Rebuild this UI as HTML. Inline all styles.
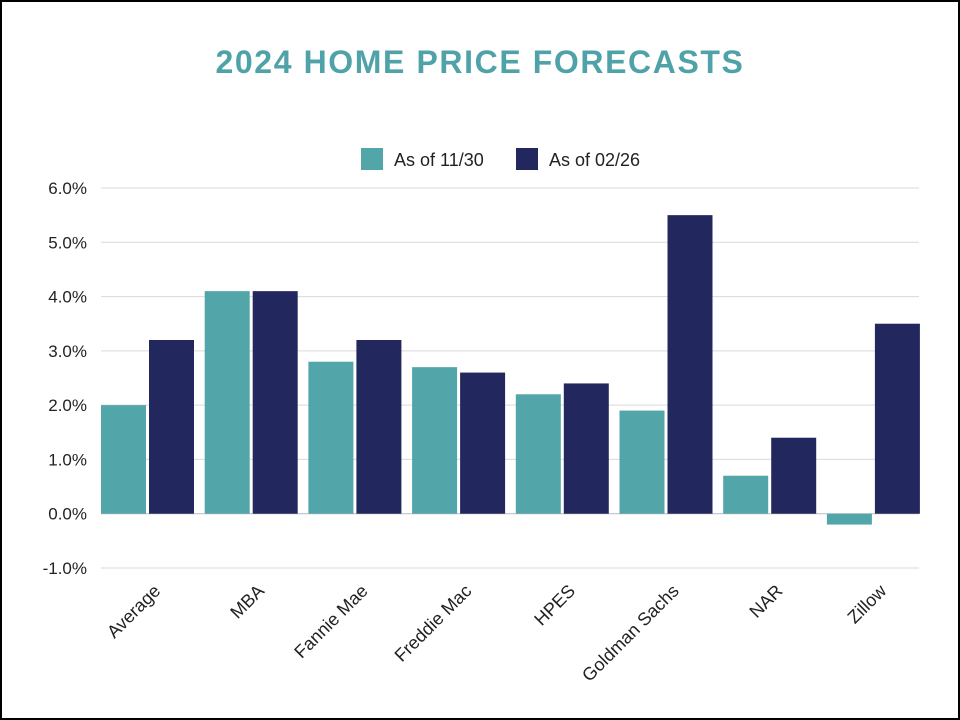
<!DOCTYPE html>
<html><head><meta charset="utf-8"><style>
html,body{margin:0;padding:0;background:#fff}
body{width:960px;height:720px;overflow:hidden}
svg{display:block;font-family:"Liberation Sans",sans-serif}
</style></head><body>
<svg id="chart" width="960" height="720" viewBox="0 0 960 720">
<rect x="1" y="1" width="958" height="718" fill="#fff" stroke="#000" stroke-width="2"/>
<text x="480" y="73" text-anchor="middle" font-size="32" font-weight="bold" fill="#4fa3a8" letter-spacing="1.6">2024 HOME PRICE FORECASTS</text>
<g>
<rect x="361" y="148" width="22" height="22" fill="#52a5a9"/>
<text x="394" y="166" font-size="18" fill="#222">As of 11/30</text>
<rect x="516" y="148" width="22" height="22" fill="#22285e"/>
<text x="549" y="166" font-size="18" fill="#222">As of 02/26</text>
</g>
<g id="grid"></g><g id="bars"></g><g id="labels"></g>
</svg>
<script>
const categories=["Average","MBA","Fannie Mae","Freddie Mac","HPES","Goldman Sachs","NAR","Zillow"];
const seriesNov=[2.0,4.1,2.8,2.7,2.2,1.9,0.7,-0.2];
const seriesFeb=[3.2,4.1,3.2,2.6,2.4,5.5,1.4,3.5];
const yTicks=[-1,0,1,2,3,4,5,6];
const ns="http://www.w3.org/2000/svg";
const x0=101,x1=919,yTop=188,yBot=568,vMin=-1,vMax=6;
const y=v=>yBot-(v-vMin)/(vMax-vMin)*(yBot-yTop);
const band=103.7;
const xb=i=>x0+i*band;
function mk(t,a,p){const e=document.createElementNS(ns,t);for(const k in a)e.setAttribute(k,a[k]);document.getElementById(p).appendChild(e);return e;}
yTicks.forEach(t=>{
 const l=mk("line",{x1:x0,x2:x1,y1:y(t),y2:y(t),stroke:t===0?"#bbb":"#d9d9d9","stroke-width":1},"grid");
 
 
 const tx=mk("text",{x:87,y:y(t)+6,"text-anchor":"end","font-size":17,fill:"#222"},"grid");
 tx.textContent=t.toFixed(1)+"%";
 
 
});
const bw=45,gap=3;
categories.forEach((c,i)=>{
 const a=seriesNov[i],b=seriesFeb[i];
 const r1=mk("rect",{x:xb(i),y:Math.min(y(a),y(0)),width:bw,height:Math.abs(y(a)-y(0)),fill:"#52a5a9"},"bars");
 
 
 const r2=mk("rect",{x:xb(i)+bw+gap,y:Math.min(y(b),y(0)),width:bw,height:Math.abs(y(b)-y(0)),fill:"#22285e"},"bars");
 
 
 const cx=xb(i)+bw+gap/2+14, cy=592;
 const t=mk("text",{x:cx,y:cy,"text-anchor":"end","font-size":18,fill:"#222",transform:`rotate(-45 ${cx} ${cy})`},"labels");
 t.textContent=c;
 
 
});
</script>
</body></html>
